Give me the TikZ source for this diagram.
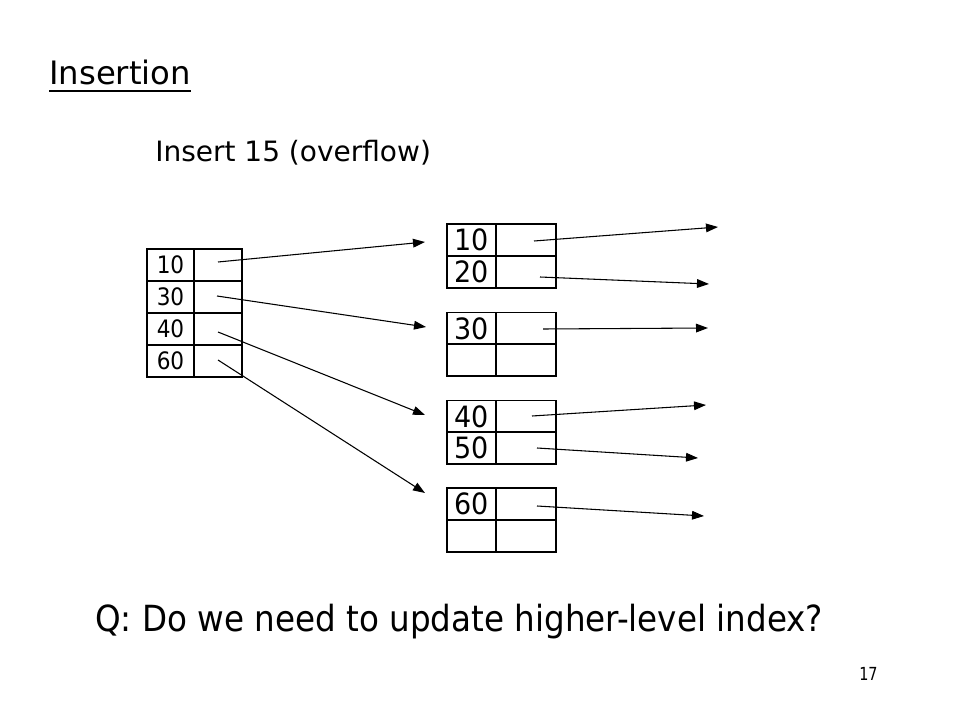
\documentclass[tikz,border=0pt]{standalone}
\usepackage{fontspec}
\setmainfont{DejaVu Sans}
\usetikzlibrary{arrows.meta}
\newcommand{\lnum}[1]{\scalebox{0.9}[1]{#1}}
\newcommand{\rnum}[1]{\scalebox{0.92}[1]{#1}}
\begin{document}
\begin{tikzpicture}[x=0.75pt,y=-0.75pt,
  lcell/.style={draw=black,line width=1pt,minimum height=24pt,minimum width=35.25pt,inner sep=0pt,outer sep=0pt,font=\fontsize{18}{18}\selectfont},
  lptr/.style={draw=black,line width=1pt,minimum height=24pt,minimum width=36pt,inner sep=0pt,outer sep=0pt},
  rcell/.style={draw=black,line width=1pt,minimum height=24pt,minimum width=36.75pt,inner sep=0pt,outer sep=0pt,font=\fontsize{22}{22}\selectfont},
  rptr/.style={draw=black,line width=1pt,minimum height=24pt,minimum width=45pt,inner sep=0pt,outer sep=0pt},
  ptr/.style={draw=black,line width=0.8pt,-{Triangle[length=9pt,width=6.5pt]}},
  txt/.style={anchor=base west,inner sep=0pt}]
\useasboundingbox (0,0) rectangle (960,720);
\fill[white] (0,0) rectangle (960,720);
% titles
\node[txt,font=\fontsize{24.2}{24.2}\selectfont] (title) at (49,85) {Insertion};
\draw[line width=1.2pt] (49,91) -- (191,91);
\node[txt,font=\fontsize{21}{21}\selectfont] (sub) at (155,162) {Insert 15 (overflow)};
\node[txt,font=\fontsize{27}{27}\selectfont] (q) at (95,631) {\scalebox{0.905}[1]{Q: Do we need to update higher-level index?}};
\node[txt,font=\fontsize{13.5}{13.5}\selectfont] (pg) at (859,680) {\scalebox{0.8}[1]{17}};
% left index node
\foreach \v/\y [count=\i] in {10/265,30/297,40/329,60/361}{
  \node[lcell] (L\i) at (170.5,\y) {\lnum{\v}};
  \node[lptr] (P\i) at (218,\y) {};
}
% right leaf nodes
\node[rcell] (A1) at (471.5,240) {\rnum{10}};
\node[rptr]  (AP1) at (526,240) {};
\node[rcell] (A2) at (471.5,272) {\rnum{20}};
\node[rptr]  (AP2) at (526,272) {};
\node[rcell] (B1) at (471.5,328.5) {\rnum{30}};
\node[rptr]  (BP1) at (526,328.5) {};
\node[rcell] (B2) at (471.5,360) {};
\node[rptr]  (BP2) at (526,360) {};
\node[rcell] (C1) at (471.5,416.5) {\rnum{40}};
\node[rptr]  (CP1) at (526,416.5) {};
\node[rcell] (C2) at (471.5,448) {\rnum{50}};
\node[rptr]  (CP2) at (526,448) {};
\node[rcell] (D1) at (471.5,504) {\rnum{60}};
\node[rptr]  (DP1) at (526,504) {};
\node[rcell] (D2) at (471.5,536) {};
\node[rptr]  (DP2) at (526,536) {};
% pointer start / free end coordinates
\coordinate (s1) at (218,262);
\coordinate (s2) at (217,296);
\coordinate (s3) at (218,332);
\coordinate (s4) at (218,360);
\coordinate (t1) at (425,242);
\coordinate (t2) at (426,327);
\coordinate (t3) at (425,415);
\coordinate (t4) at (425,493);
\coordinate (a1) at (534,241);
\coordinate (a2) at (540,277);
\coordinate (b1) at (543,329);
\coordinate (c1) at (532,416);
\coordinate (c2) at (537,448);
\coordinate (d1) at (537,506);
\coordinate (e1) at (718,227);
\coordinate (e2) at (709,284);
\coordinate (e3) at (708,328);
\coordinate (e4) at (706,405);
\coordinate (e5) at (698,458);
\coordinate (e6) at (704,516);
\draw[ptr] (s1) -- (t1);
\draw[ptr] (s2) -- (t2);
\draw[ptr] (s3) -- (t3);
\draw[ptr] (s4) -- (t4);
\draw[ptr] (a1) -- (e1);
\draw[ptr] (a2) -- (e2);
\draw[ptr] (b1) -- (e3);
\draw[ptr] (c1) -- (e4);
\draw[ptr] (c2) -- (e5);
\draw[ptr] (d1) -- (e6);
\end{tikzpicture}
\end{document}
